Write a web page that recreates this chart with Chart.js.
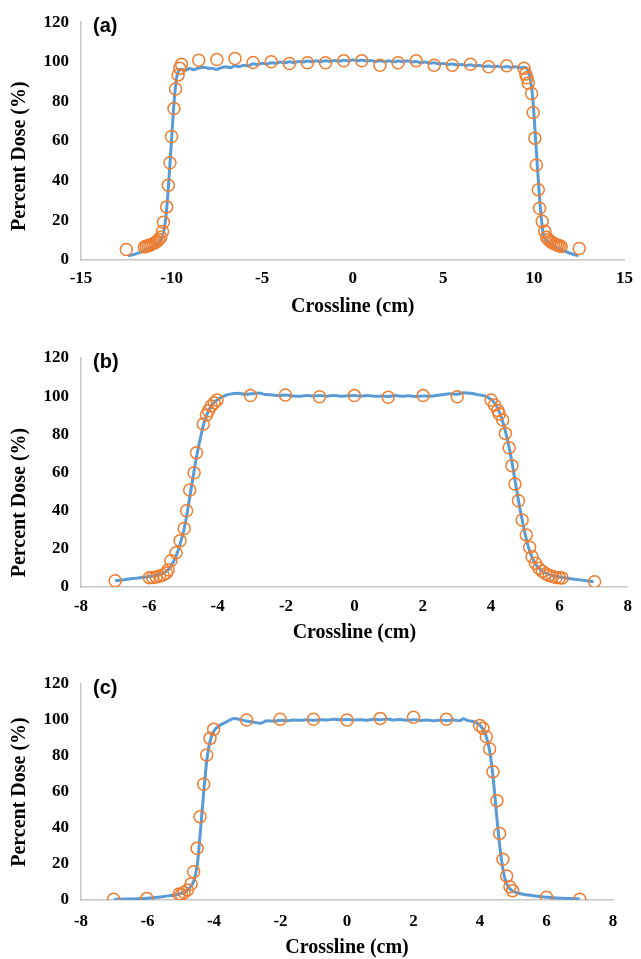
<!DOCTYPE html>
<html>
<head>
<meta charset="utf-8">
<script src="https://cdn.jsdelivr.net/npm/chart.js@4"></script>
<style>
  html, body { margin: 0; padding: 0; background: #fff; }
  body { width: 641px; height: 959px; position: relative; overflow: hidden; }
  .panel { position: absolute; left: 0; width: 641px; }
</style>
</head>
<body>
<div class="panel" style="top:0px;height:330px"><canvas id="chartA"></canvas></div>
<div class="panel" style="top:320px;height:335px"><canvas id="chartB"></canvas></div>
<div class="panel" style="top:630px;height:329px"><canvas id="chartC"></canvas></div>
<script>
// panel (a): 20x20 field
const aLineX = [-12.4, -12.0, -11.5, -11.0, -10.7, -10.5, -10.4, -10.3, -10.2, -10.1, -10.0, -9.9, -9.8, -9.7, -9.6, -9.5,
  -9.25, -9.0, -8.75, -8.5, -8.25, -8.0, -7.75, -7.5, -7.25, -7.0, -6.75, -6.5, -6.25, -6.0, -5.75, -5.5, -5.25, -5.0,
  -4.75, -4.5, -4.25, -4.0, -3.75, -3.5, -3.25, -3.0, -2.75, -2.5, -2.25, -2.0, -1.75, -1.5, -1.25, -1.0, -0.75, -0.5,
  -0.25, 0, 0.25, 0.5, 0.75, 1.0, 1.25, 1.5, 1.75, 2.0, 2.25, 2.5, 2.75, 3.0, 3.25, 3.5, 3.75, 4.0, 4.25, 4.5, 4.75,
  5.0, 5.25, 5.5, 5.75, 6.0, 6.25, 6.5, 6.75, 7.0, 7.25, 7.5, 7.75, 8.0, 8.25, 8.5, 8.75, 9.0, 9.25, 9.5,
  9.6, 9.7, 9.8, 9.9, 10.0, 10.1, 10.2, 10.3, 10.4, 10.5, 10.6, 10.8, 11.0, 11.5, 12.0, 12.46];
const aLineY = [2.0, 3.0, 4.8, 6.8, 9.0, 12.0, 16.0, 23.0, 34.0, 47.0, 61.0, 75.0, 86.0, 93.0, 95.5, 96.2,
  95.8, 96.6, 96.1, 96.9, 97.3, 96.8, 96.7, 96.2, 97.1, 97.5, 97.0, 98.0, 97.6, 98.3, 98.0, 99.0, 98.6, 99.3,
  98.9, 99.6, 99.3, 99.9, 99.5, 100.1, 99.6, 100.2, 99.9, 100.4, 100.0, 100.5, 100.1, 100.6, 100.2, 100.7, 100.3, 100.8,
  100.4, 101.0, 100.5, 100.9, 100.4, 100.7, 100.2, 100.6, 100.1, 100.5, 100.0, 100.4, 100.1, 100.5, 99.9, 100.2, 99.6, 99.9, 99.3, 99.5, 98.9,
  99.2, 98.7, 98.9, 98.4, 98.7, 98.2, 98.5, 98.0, 98.2, 97.7, 97.9, 97.5, 97.8, 97.3, 97.6, 97.2, 97.5, 97.0, 97.3,
  96.8, 95.0, 91.0, 85.0, 74.0, 60.0, 46.0, 33.0, 22.0, 14.0, 11.0, 9.0, 7.5, 5.2, 3.4, 2.0];
const aDotX = [-12.5, -11.5, -11.4, -11.3, -11.2, -11.1, -11.0, -10.9, -10.8, -10.7, -10.6, -10.5, -10.45, -10.27, -10.18,
  -10.09, -10.0, -9.87, -9.78, -9.64, -9.55, -9.45, -8.5, -7.5, -6.5, -5.5, -4.5, -3.5, -2.5, -1.5, -0.5, 0.5, 1.5, 2.5,
  3.5, 4.5, 5.5, 6.5, 7.5, 8.5, 9.45, 9.55, 9.62, 9.69, 9.87, 9.96, 10.05, 10.13, 10.24, 10.31, 10.46, 10.6, 10.7,
  10.8, 10.9, 11.0, 11.1, 11.2, 11.3, 11.4, 11.5, 12.5];
const aDotY = [5.3, 6.6, 6.9, 7.2, 7.5, 7.9, 8.3, 8.8, 9.5, 10.3, 11.5, 14.4, 19.0, 26.8, 37.7,
  49.1, 62.3, 76.4, 86.3, 93.4, 96.7, 98.8, 100.8, 101.2, 101.7, 99.7, 100.0, 99.2, 99.5, 99.5, 100.5, 100.5, 98.3, 99.5,
  100.5, 98.3, 98.3, 98.8, 97.5, 98.0, 96.7, 93.9, 92.0, 89.3, 84.0, 74.4, 61.5, 47.9, 35.5, 26.1, 19.5, 14.5, 11.5,
  10.3, 9.5, 8.8, 8.3, 7.9, 7.5, 7.2, 6.8, 5.8];

// panel (b)
const bLineX = [-7.0, -6.5, -6.0, -5.8, -5.6, -5.5, -5.4, -5.3, -5.2, -5.1, -5.0, -4.9, -4.8, -4.7, -4.6, -4.5, -4.4, -4.3,
  -4.2, -4.1, -4.0, -3.8, -3.6, -3.4, -3.2, -3.0, -2.8, -2.6, -2.4, -2.2, -2.0, -1.8, -1.6, -1.4, -1.2, -1.0, -0.8, -0.6,
  -0.4, -0.2, 0, 0.2, 0.4, 0.6, 0.8, 1.0, 1.2, 1.4, 1.6, 1.8, 2.0, 2.2, 2.4, 2.6, 2.8, 3.0, 3.2, 3.4, 3.6, 3.8, 4.0, 4.1,
  4.2, 4.3, 4.4, 4.5, 4.6, 4.7, 4.8, 4.9, 5.0, 5.1, 5.2, 5.3, 5.4, 5.5, 5.6, 5.8, 6.0, 6.5, 7.0];
const bLineY = [3.3, 4.4, 5.5, 6.2, 7.2, 8.2, 10.0, 13.0, 17.0, 22.5, 29.0, 38.0, 49.0, 60.0, 70.0, 78.5, 86.0, 91.0,
  94.5, 96.8, 98.3, 100.2, 101.2, 101.5, 101.0, 101.3, 101.6, 100.9, 100.6, 100.3, 100.6, 100.1, 99.9, 100.4, 100.1, 100.3, 100.0, 100.4,
  100.0, 100.2, 100.3, 100.0, 100.4, 99.9, 100.1, 99.8, 100.3, 99.9, 100.2, 99.8, 100.1, 100.0, 100.4, 100.9, 101.3, 101.0, 101.8, 101.5, 100.8, 100.2, 98.3, 96.5,
  93.5, 89.0, 83.0, 75.5, 66.5, 56.0, 45.5, 36.0, 27.5, 20.5, 15.5, 12.0, 9.8, 8.3, 7.2, 6.0, 5.2, 4.0, 2.8];
const bDotX = [-7.0, -6.0, -5.9, -5.8, -5.7, -5.6, -5.5, -5.45, -5.37, -5.22, -5.1, -4.98, -4.91, -4.82, -4.69, -4.62,
  -4.42, -4.33, -4.27, -4.19, -4.1, -4.02, -3.04, -2.02, -1.02, 0, 0.99, 2.01, 3.01, 4.0, 4.1, 4.2, 4.24, 4.34, 4.42,
  4.53, 4.61, 4.7, 4.8, 4.91, 5.03, 5.13, 5.2, 5.3, 5.4, 5.5, 5.6, 5.7, 5.8, 5.9, 6.0, 6.08, 7.03];
const bDotY = [3.3, 4.9, 5.0, 5.3, 5.7, 6.3, 7.3, 9.0, 13.8, 18.0, 24.3, 30.7, 40.0, 50.8, 59.9, 70.4,
  85.4, 90.1, 92.3, 94.9, 96.5, 98.0, 100.3, 100.6, 99.7, 100.3, 99.4, 100.3, 99.7, 98.0, 95.4, 92.5, 90.7, 87.5, 80.5,
  73.0, 63.6, 54.0, 45.2, 35.1, 27.3, 20.8, 15.9, 12.4, 9.8, 8.3, 7.0, 6.1, 5.5, 5.0, 4.8, 4.7, 2.8];

// panel (c)
const cLineX = [-7.0, -6.0, -5.5, -5.0, -4.8, -4.7, -4.6, -4.5, -4.4, -4.3, -4.2, -4.1, -4.0, -3.9, -3.8, -3.6, -3.4, -3.2,
  -3.0, -2.8, -2.6, -2.4, -2.2, -2.0, -1.8, -1.6, -1.4, -1.2, -1.0, -0.8, -0.6, -0.4, -0.2, 0, 0.2, 0.4, 0.6, 0.8, 1.0,
  1.2, 1.4, 1.6, 1.8, 2.0, 2.2, 2.4, 2.6, 2.8, 3.0, 3.2, 3.4, 3.5, 3.6, 3.8, 3.9, 4.0, 4.1, 4.2, 4.3, 4.4, 4.5, 4.6,
  4.7, 4.8, 4.9, 5.0, 5.5, 6.0, 7.0];
const cLineY = [0.4, 1.0, 2.0, 3.6, 5.5, 7.5, 11.0, 20.0, 40.0, 62.0, 80.0, 89.5, 94.0, 96.0, 97.3, 99.2, 100.9, 100.2,
  99.3, 98.8, 98.2, 99.6, 99.4, 99.8, 99.6, 100.0, 99.8, 100.1, 99.9, 100.2, 100.0, 100.4, 100.1, 100.3, 100.0, 100.2, 99.9, 100.4, 100.1,
  100.6, 100.0, 100.3, 99.8, 100.2, 99.7, 100.0, 99.6, 99.9, 99.7, 100.0, 99.6, 100.7, 99.8, 99.2, 98.4, 97.0, 94.5, 90.0, 82.0, 67.0, 47.0, 29.0,
  16.0, 9.0, 6.3, 4.8, 2.6, 1.5, 0.5];
const cDotX = [-7.02, -6.02, -5.05, -4.98, -4.9, -4.8, -4.69, -4.61, -4.51, -4.42, -4.31, -4.22, -4.12, -4.01, -3.02,
  -2.01, -1.01, 0, 1.0, 2.0, 2.99, 3.99, 4.09, 4.19, 4.29, 4.39, 4.51, 4.59, 4.69, 4.8, 4.9, 4.98, 6.0, 7.0];
const cDotY = [0.4, 0.9, 3.3, 3.0, 4.2, 5.6, 8.9, 15.7, 28.7, 46.3, 64.3, 80.6, 89.8, 94.8, 100.0,
  100.4, 100.4, 100.0, 100.9, 101.5, 100.4, 96.9, 95.4, 90.7, 83.9, 71.3, 55.2, 37.0, 22.6, 13.3, 7.4, 5.2, 1.5, 0.4];

const yTicks = [0, 20, 40, 60, 80, 100, 120];
const xTitle = 'Crossline (cm)';
const yTitle = 'Percent Dose (%)';

Chart.defaults.font.family = '"Liberation Serif", "Times New Roman", serif';
Chart.defaults.color = '#000';

const blue = '#5B9BD5';
const orange = '#ED7D31';
const axisGrey = '#c6c6c6';

// draws the (a)/(b)/(c) tag inside the plot area
const panelLabel = {
  id: 'panelLabel',
  afterDraw(chart, args, opts) {
    const { ctx, chartArea } = chart;
    ctx.save();
    ctx.font = 'bold 20px "Liberation Sans", Arial, sans-serif';
    ctx.fillStyle = '#000';
    ctx.textBaseline = 'middle';
    ctx.fillText(opts.text, chartArea.left + 12, chartArea.top + 4);
    ctx.restore();
  }
};

function pts(xs, ys) {
  return xs.map((x, i) => ({ x: x, y: ys[i] }));
}

function makeChart(id, cfg) {
  new Chart(document.getElementById(id), {
    type: 'scatter',
    data: {
      datasets: [
        {
          label: 'Calculated',
          data: pts(cfg.dotX, cfg.dotY),
          pointStyle: 'circle',
          pointRadius: 6,
          pointBorderWidth: 1.5,
          pointBorderColor: orange,
          pointBackgroundColor: 'rgba(0,0,0,0)',
          showLine: false,
          order: 1
        },
        {
          label: 'Measured',
          data: pts(cfg.lineX, cfg.lineY),
          showLine: true,
          borderColor: blue,
          borderWidth: 3,
          pointRadius: 0,
          cubicInterpolationMode: 'monotone',
          order: 2
        }
      ]
    },
    options: {
      responsive: true,
      maintainAspectRatio: false,
      animation: false,
      layout: { padding: { left: 0, top: cfg.padTop, right: cfg.padRight, bottom: cfg.padBottom } },
      plugins: {
        legend: { display: false },
        tooltip: { enabled: false },
        panelLabel: { text: cfg.tag }
      },
      scales: {
        x: {
          type: 'linear',
          min: cfg.xMin,
          max: cfg.xMax,
          grid: { display: false, drawTicks: false },
          border: { display: true, color: axisGrey, width: 1.5 },
          ticks: {
            stepSize: cfg.xStep,
            padding: cfg.xTickPad,
            font: { size: 17, weight: 'bold' },
            maxRotation: 0
          },
          title: {
            display: true,
            text: xTitle,
            font: { size: 20, weight: 'bold', lineHeight: 1 },
            padding: 0
          },
          afterFit(scale) { scale.height = cfg.xHeight; }
        },
        y: {
          min: 0,
          max: 120,
          grid: { display: false, drawTicks: false },
          border: { display: true, color: axisGrey, width: 1.5 },
          afterBuildTicks(scale) { scale.ticks = yTicks.map(v => ({ value: v })); },
          ticks: {
            padding: 12,
            font: { size: 17, weight: 'bold' }
          },
          title: {
            display: true,
            text: yTitle + '\u00a0'.repeat(cfg.yShift),
            font: { size: 20, weight: 'bold', lineHeight: 1 },
            padding: { top: 10, bottom: 0 }
          },
          afterFit(scale) { scale.width = 81; }
        }
      }
    },
    plugins: [panelLabel]
  });
}

makeChart('chartA', {
  tag: '(a)', lineX: aLineX, lineY: aLineY, dotX: aDotX, dotY: aDotY,
  xMin: -15, xMax: 15, xStep: 5,
  padTop: 18, padRight: 11, padBottom: 13, xHeight: 57, xTickPad: 8, yShift: 6
});
makeChart('chartB', {
  tag: '(b)', lineX: bLineX, lineY: bLineY, dotX: bDotX, dotY: bDotY,
  xMin: -8, xMax: 8, xStep: 2,
  padTop: 38, padRight: 4, padBottom: 12, xHeight: 56, xTickPad: 9, yShift: 12
});
makeChart('chartC', {
  tag: '(c)', lineX: cLineX, lineY: cLineY, dotX: cDotX, dotY: cDotY,
  xMin: -8, xMax: 8, xStep: 2,
  padTop: 54, padRight: 28, padBottom: 1, xHeight: 58, xTickPad: 11, yShift: 0
});
</script>
</body>
</html>
